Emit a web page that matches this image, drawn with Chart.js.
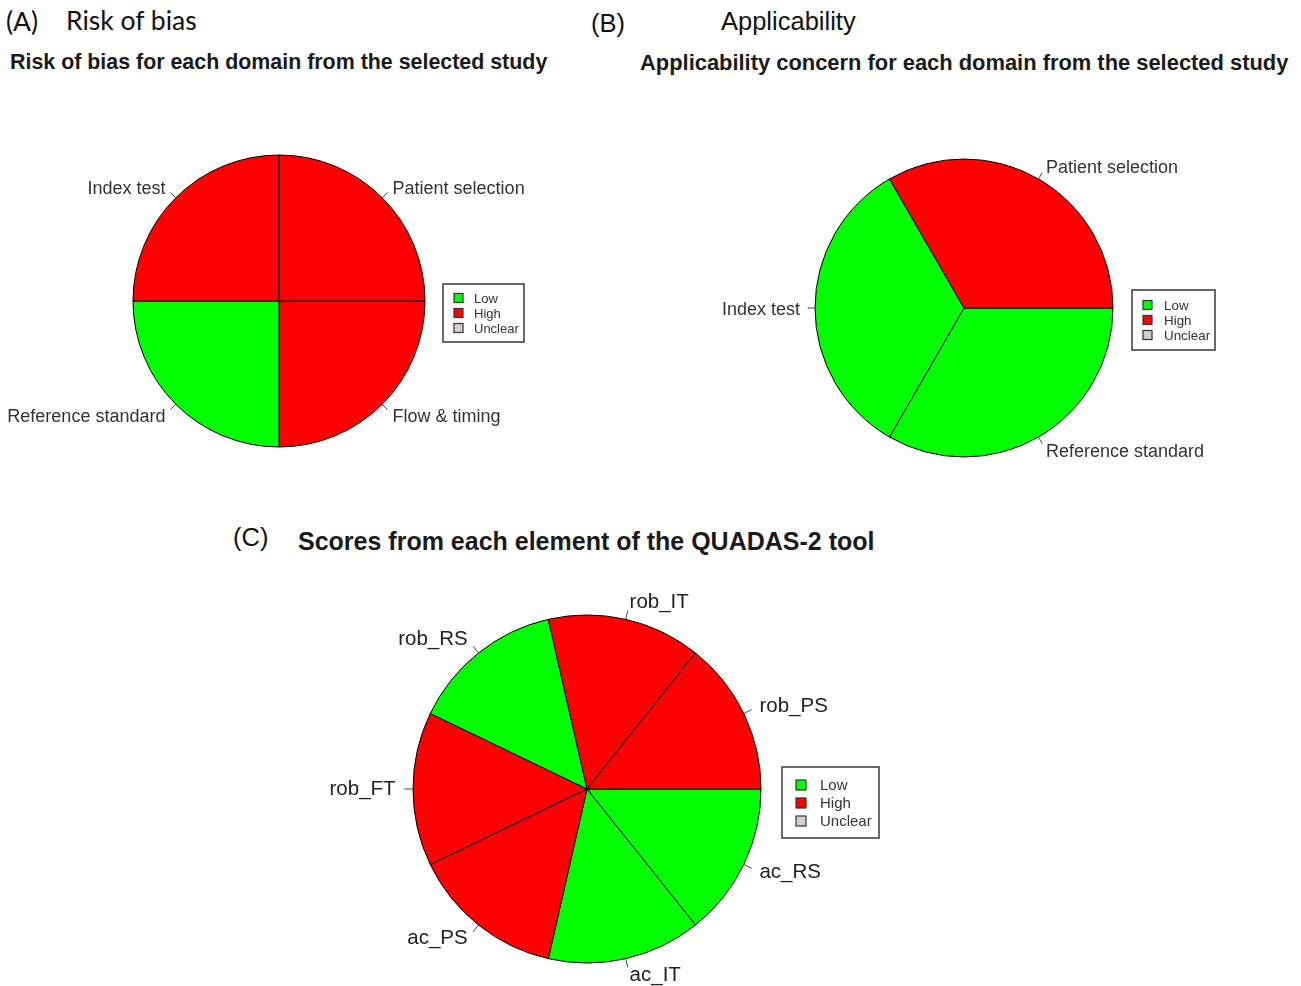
<!DOCTYPE html>
<html>
<head>
<meta charset="utf-8">
<script src="https://cdn.jsdelivr.net/npm/chart.js@4.4.1/dist/chart.umd.min.js"></script>
<style>
  html, body { margin:0; padding:0; background:#fff; }
  body { width:1301px; height:986px; position:relative; overflow:hidden; }
  .t { position:absolute; white-space:nowrap; color:#111; }
  .head { font-family:"Liberation Sans", Arial, sans-serif; font-size:25.5px; line-height:30px; }
  .headA { font-family:Lato, "Open Sans", sans-serif; font-size:26.5px; line-height:30px; }
  .title { font-family:"Liberation Sans", Arial, sans-serif; font-weight:bold; line-height:30px; color:#1a1a1a; }
  canvas { position:absolute; }
</style>
</head>
<body>
<div class="t headA" style="left:6px; top:6px;">(A)</div>
<div class="t headA" style="left:66px; top:5px;">Risk of bias</div>
<div class="t head" style="left:591px; top:8px;">(B)</div>
<div class="t head" style="left:721px; top:6px;">Applicability</div>
<div class="t head" style="left:233px; top:522px;">(C)</div>

<div class="t title" style="left:10px; top:47px; font-size:21.4px;">Risk of bias for each domain from the selected study</div>
<div class="t title" style="left:640px; top:48px; font-size:21.9px;">Applicability concern for each domain from the selected study</div>
<div class="t title" style="left:298px; top:526px; font-size:25px;">Scores from each element of the QUADAS-2 tool</div>

<canvas id="cA" width="580" height="400" style="left:0px; top:100px;"></canvas>
<canvas id="cB" width="721" height="400" style="left:580px; top:100px;"></canvas>
<canvas id="cC" width="800" height="416" style="left:200px; top:570px;"></canvas>

<script>
// ---------- DATA ----------
const legendLevels = ['Low', 'High', 'Unclear'];

const domainsA = ['Patient selection', 'Index test', 'Reference standard', 'Flow & timing'];
const riskA    = ['High', 'High', 'Low', 'High'];
const weightsA = [1, 1, 1, 1];

const domainsB = ['Patient selection', 'Index test', 'Reference standard'];
const applicB  = ['High', 'Low', 'Low'];
const weightsB = [1, 1, 1];

const elementsC = ['rob_PS', 'rob_IT', 'rob_RS', 'rob_FT', 'ac_PS', 'ac_IT', 'ac_RS'];
const scoresC   = ['High', 'High', 'Low', 'High', 'High', 'Low', 'Low'];
const weightsC  = [1, 1, 1, 1, 1, 1, 1];

// ---------- STYLE ----------
const levelColors = { Low: '#00ff00', High: '#ff0000', Unclear: '#d6cdd0' };

// R-style pie labels + legend box
const rPiePlugin = {
  id: 'rPie',
  afterDatasetsDraw(chart, args, opts) {
    const ctx = chart.ctx;
    const meta = chart.getDatasetMeta(0);
    const labels = chart.data.labels;
    ctx.save();
    ctx.font = opts.labelFont;
    ctx.fillStyle = opts.labelColor;
    ctx.strokeStyle = opts.tickColor;
    ctx.lineWidth = 1;
    ctx.textBaseline = 'middle';
    meta.data.forEach((arc, i) => {
      const p = arc.getProps(['x', 'y', 'startAngle', 'endAngle', 'outerRadius'], true);
      const mid = (p.startAngle + p.endAngle) / 2;
      const c = Math.cos(mid), s = Math.sin(mid);
      const r = p.outerRadius;
      ctx.beginPath();
      ctx.moveTo(p.x + r * c, p.y + r * s);
      ctx.lineTo(p.x + 1.05 * r * c, p.y + 1.05 * r * s);
      ctx.stroke();
      ctx.textAlign = c >= 0 ? 'left' : 'right';
      ctx.fillText(labels[i], p.x + 1.1 * r * c, p.y + 1.1 * r * s + opts.labelDy);
    });
    // legend
    const L = opts.legend;
    ctx.fillStyle = '#ffffff';
    ctx.fillRect(L.x, L.y, L.w, L.h);
    ctx.strokeStyle = '#444';
    ctx.lineWidth = 1.6;
    ctx.strokeRect(L.x, L.y, L.w, L.h);
    ctx.font = L.font;
    ctx.textAlign = 'left';
    ctx.textBaseline = 'middle';
    legendLevels.forEach((lv, i) => {
      const cy = L.y + L.first + i * L.gap;
      ctx.fillStyle = levelColors[lv];
      ctx.fillRect(L.sqX, cy - L.sq / 2, L.sq, L.sq);
      ctx.strokeStyle = '#333';
      ctx.lineWidth = 1.2;
      ctx.strokeRect(L.sqX, cy - L.sq / 2, L.sq, L.sq);
      ctx.fillStyle = '#333';
      ctx.fillText(lv, L.textX, cy + 1);
    });
    ctx.restore();
  }
};

function makePie(id, labels, levels, weights, geo, labelFont, labelColor, labelDy, legend) {
  const cv = document.getElementById(id);
  const W = cv.width, H = cv.height;
  // R draws counter-clockwise from 3 o'clock: reverse order and draw clockwise from 3 o'clock
  const revLabels = labels.slice().reverse();
  const revLevels = levels.slice().reverse();
  const revWeights = weights.slice().reverse();
  new Chart(cv, {
    type: 'pie',
    data: {
      labels: revLabels,
      datasets: [{
        data: revWeights,
        backgroundColor: revLevels.map(l => levelColors[l]),
        borderColor: '#000',
        borderWidth: 1,
        borderAlign: 'center',
        hoverOffset: 0
      }]
    },
    options: {
      responsive: false,
      animation: false,
      devicePixelRatio: 1,
      rotation: 90,
      radius: geo.r,
      layout: {
        padding: {
          left: geo.cx - geo.r,
          right: W - (geo.cx + geo.r),
          top: geo.cy - geo.r,
          bottom: H - (geo.cy + geo.r)
        }
      },
      plugins: {
        legend: { display: false },
        tooltip: { enabled: false },
        title: { display: false },
        rPie: { labelFont, labelColor, tickColor: '#444', labelDy, legend }
      }
    },
    plugins: [rPiePlugin]
  });
}

makePie('cA', domainsA, riskA, weightsA,
  { cx: 279, cy: 201, r: 146 },
  '18px "Liberation Sans", Arial, sans-serif', '#333', 2,
  { x: 443, y: 184, w: 81, h: 58, sqX: 454, sq: 9, first: 14, gap: 15, textX: 474,
    font: '13px "Liberation Sans", Arial, sans-serif' });

makePie('cB', domainsB, applicB, weightsB,
  { cx: 384, cy: 208, r: 149 },
  '18px "Liberation Sans", Arial, sans-serif', '#333', 2,
  { x: 552, y: 190, w: 83, h: 60, sqX: 563, sq: 9, first: 15, gap: 15, textX: 584,
    font: '13.4px "Liberation Sans", Arial, sans-serif' });

makePie('cC', elementsC, scoresC, weightsC,
  { cx: 387, cy: 219, r: 174 },
  '20.5px "Liberation Sans", Arial, sans-serif', '#222', 0,
  { x: 582, y: 197, w: 97, h: 71, sqX: 596, sq: 10, first: 18, gap: 18, textX: 620,
    font: '15px "Liberation Sans", Arial, sans-serif' });
</script>
</body>
</html>
